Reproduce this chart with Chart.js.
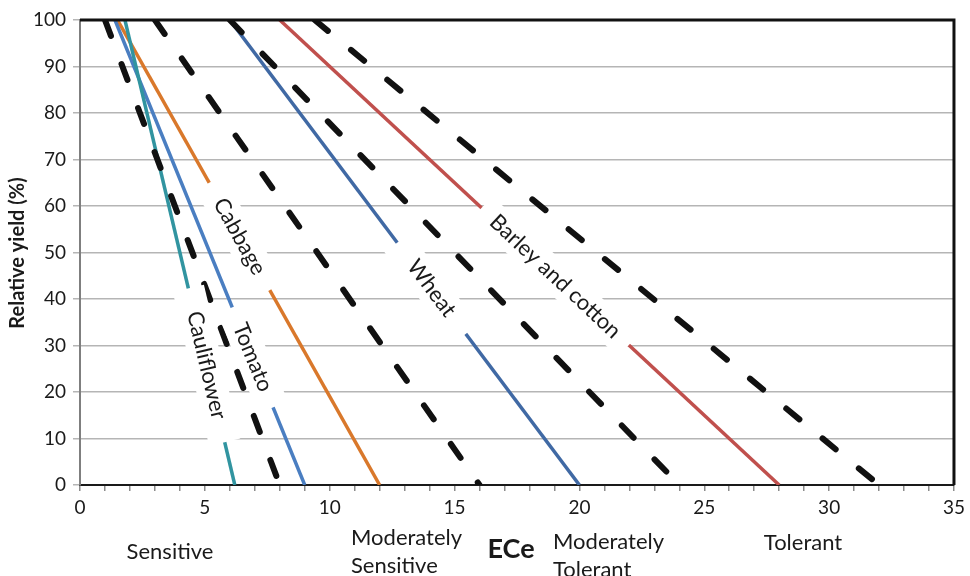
<!DOCTYPE html>
<html>
<head>
<meta charset="utf-8">
<script src="https://cdn.jsdelivr.net/npm/chart.js@4.4.0/dist/chart.umd.min.js"></script>
<style>
  html, body { margin: 0; padding: 0; background: #fff; }
  #wrap { width: 970px; height: 576px; }
</style>
</head>
<body>
<div id="wrap"><canvas id="chart" width="970" height="576"></canvas></div>
<script>
// crop response lines: ECe at 100% yield and ECe at 0% yield
const cropNames = ['Cauliflower', 'Tomato', 'Cabbage', 'Wheat', 'Barley and cotton'];
const cropStartEC = [1.8, 1.4, 1.5, 6, 8];
const cropEndEC = [6.2, 9, 12, 20, 28];
const cropColors = ['#3194A0', '#4A7EC1', '#D9782B', '#4069A4', '#C0504D'];
// where each line is broken for its label (relative yield, %)
const labelGapTop = [42.3, 38.2, 65, 52.1, 59.6];
const labelGapBottom = [9.2, 16.7, 41.9, 32.5, 30.1];

// dashed class boundaries
const boundaryStartEC = [1, 3, 6, 9.4];
const boundaryEndEC = [8, 16, 24, 32];

const toleranceClasses = ['Sensitive', 'Moderately\nSensitive', 'Moderately\nTolerant', 'Tolerant'];
const xTitle = 'ECe';
const yTitle = 'Relative yield (%)';

const FONT = 'Lato, "Open Sans", sans-serif';
const TEXT = '#1a1a1a';

const ecAt = (start, end, y) => start + (end - start) * (1 - y / 100);

const datasets = [];
boundaryStartEC.forEach((s, i) => {
  datasets.push({
    data: [{ x: s, y: 100 }, { x: boundaryEndEC[i], y: 0 }],
    borderColor: '#111',
    borderWidth: 6,
    borderDash: [17, 30],
    borderCapStyle: 'round',
    showLine: true,
    pointRadius: 0
  });
});
cropNames.forEach((name, i) => {
  datasets.push({
    label: name,
    data: [{ x: cropStartEC[i], y: 100 }, { x: cropEndEC[i], y: 0 }],
    borderColor: cropColors[i],
    borderWidth: 3.5,
    showLine: true,
    pointRadius: 0
  });
});

const decorPlugin = {
  id: 'decor',
  afterDatasetsDraw(chart) {
    const ctx = chart.ctx;
    const xs = chart.scales.x, ys = chart.scales.y;
    const area = chart.chartArea;

    // label boxes along each crop line
    cropNames.forEach((name, i) => {
      const t = labelGapTop[i], b = labelGapBottom[i];
      const x1 = xs.getPixelForValue(ecAt(cropStartEC[i], cropEndEC[i], t));
      const y1 = ys.getPixelForValue(t);
      const x2 = xs.getPixelForValue(ecAt(cropStartEC[i], cropEndEC[i], b));
      const y2 = ys.getPixelForValue(b);
      const len = Math.hypot(x2 - x1, y2 - y1);
      const ang = Math.atan2(y2 - y1, x2 - x1);
      ctx.save();
      ctx.translate((x1 + x2) / 2, (y1 + y2) / 2);
      ctx.rotate(ang);
      ctx.fillStyle = '#fff';
      ctx.fillRect(-len / 2, -16, len, 32);
      ctx.fillStyle = TEXT;
      ctx.font = '22px ' + FONT;
      ctx.textAlign = 'center';
      ctx.textBaseline = 'middle';
      ctx.fillText(name, 0, 0);
      ctx.restore();
    });

    // top and right frame
    ctx.save();
    ctx.strokeStyle = '#111';
    ctx.lineWidth = 3;
    ctx.beginPath();
    ctx.moveTo(area.left, area.top);
    ctx.lineTo(area.right, area.top);
    ctx.lineTo(area.right, area.bottom);
    ctx.stroke();
    ctx.restore();
  },
  afterDraw(chart) {
    const ctx = chart.ctx;
    ctx.save();
    ctx.fillStyle = TEXT;

    // y title
    ctx.save();
    ctx.translate(18, 253);
    ctx.rotate(-Math.PI / 2);
    ctx.font = 'bold 20px ' + FONT;
    ctx.textAlign = 'center';
    ctx.textBaseline = 'middle';
    ctx.fillText(yTitle, 0, 0);
    ctx.restore();

    // tolerance classes under the axis
    const spots = [
      { x: 170, y: 552, align: 'center' },
      { x: 351, y: 538, align: 'left' },
      { x: 553, y: 542, align: 'left' },
      { x: 803, y: 543, align: 'center' }
    ];
    ctx.font = '22px ' + FONT;
    ctx.textBaseline = 'middle';
    toleranceClasses.forEach((txt, i) => {
      ctx.textAlign = spots[i].align;
      txt.split('\n').forEach((line, k) => {
        ctx.fillText(line, spots[i].x, spots[i].y + k * 28);
      });
    });

    ctx.font = 'bold 27px ' + FONT;
    ctx.textAlign = 'center';
    ctx.fillText(xTitle, 511, 549);
    ctx.restore();
  }
};

new Chart(document.getElementById('chart'), {
  type: 'scatter',
  data: { datasets },
  options: {
    responsive: false,
    animation: false,
    layout: { padding: { top: 20, right: 13, left: 0, bottom: 0 } },
    plugins: { legend: { display: false }, tooltip: { enabled: false } },
    scales: {
      x: {
        type: 'linear',
        min: 0,
        max: 35,
        ticks: {
          stepSize: 1,
          autoSkip: false,
          maxRotation: 0,
          padding: 5,
          color: TEXT,
          font: { family: FONT, size: 19 },
          callback: v => (v % 5 === 0 ? String(v) : '')
        },
        grid: { drawOnChartArea: false, drawTicks: true, tickLength: 6, color: '#8c8c8c', lineWidth: 1.5 },
        border: { display: true, color: '#1a1a1a', width: 2 },
        afterFit: s => { s.height = 91; }
      },
      y: {
        min: 0,
        max: 100,
        ticks: { stepSize: 10, padding: 7, color: TEXT, font: { family: FONT, size: 19 } },
        grid: { color: '#b5b5b5', lineWidth: 1.5, tickLength: 7 },
        border: { display: true, color: '#7f7f7f', width: 2 },
        afterFit: s => { s.width = 80; }
      }
    }
  },
  plugins: [decorPlugin]
});
</script>
</body>
</html>
